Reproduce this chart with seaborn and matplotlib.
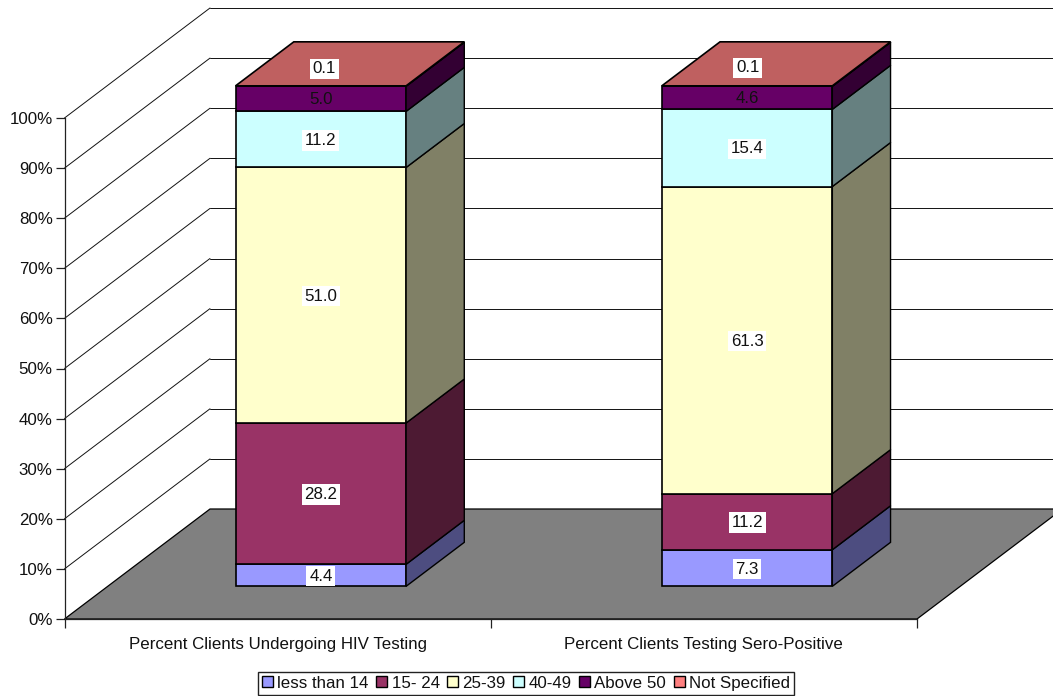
import numpy as np
import matplotlib
matplotlib.use("Agg")
import matplotlib.pyplot as plt
from matplotlib.patches import Patch, Polygon
import seaborn as sns

# Age-group shares of clients, bottom of the stack first
categories = ["Percent Clients Undergoing HIV Testing", "Percent Clients Testing Sero-Positive"]
age_groups = ["less than 14", "15- 24", "25-39", "40-49", "Above 50", "Not Specified"]
under_14 = [4.4, 7.3]
age_15_24 = [28.2, 11.2]
age_25_39 = [51.0, 61.3]
age_40_49 = [11.2, 15.4]
above_50 = [5.0, 4.6]
not_specified = [0.1, 0.1]
percent_ticks = list(range(0, 101, 10))

series = [under_14, age_15_24, age_25_39, age_40_49, above_50, not_specified]
face_colors = ["#9999FF", "#993366", "#FFFFCC", "#CCFFFF", "#660066", "#FF8080"]
side_colors = ["#4D4D80", "#4D1A33", "#808066", "#668080", "#330033", "#804040"]
top_color = "#BF6060"
floor_color = "#808080"

# Oblique projection: one unit of depth moves a point right and up the page
W, H = 1053, 696
DEPTH_X = 145.5 / 426.25
DEPTH_Y = 110 / 5.01
BAR_FRONT, BAR_BACK = 0.297, 0.697
BAR_WIDTH = 0.4


def project(x, y, z):
    return x + z * DEPTH_X, y + z * DEPTH_Y


sns.set_theme(style="white")
plt.rcParams["font.family"] = ["Liberation Sans", "DejaVu Sans"]
FONT = 12.15
fig = plt.figure(figsize=(W / 100, H / 100), dpi=100, facecolor="white")
ax = fig.add_axes([64.5 / W, 1 - 619 / H, (917 - 64.5) / W, (619 - 118) / H])
ax.patch.set_visible(False)

# Back wall gridlines and the diagonals running along the side wall
for p in percent_ticks[1:]:
    sx, sy = project(0, p, 1)
    ax.plot([0, sx], [p, sy], color="#111111", lw=0.7, zorder=1, clip_on=False)
    ax.plot([sx, project(2, p, 1)[0]], [sy, sy], color="#111111", lw=0.7, zorder=1, clip_on=False)

# Floor
floor = [project(0, 0, 0), project(2, 0, 0), project(2, 0, 1), project(0, 0, 1)]
ax.add_patch(Polygon(floor, closed=True, facecolor=floor_color, edgecolor="black",
                     lw=0.9, zorder=1.5, clip_on=False))

# Stacked front faces, with their side faces and the top lid
centers = np.array([0.5, 1.5])
front_x = project(centers, 0, BAR_FRONT)[0]
front_base = project(0, 0, BAR_FRONT)[1]
bottom = np.full(2, front_base)
for values, face, side, name in zip(series, face_colors, side_colors, age_groups):
    values = np.array(values)
    sns.barplot(x=front_x, y=values, bottom=bottom, native_scale=True, width=BAR_WIDTH,
                color=face, saturation=1, errorbar=None, edgecolor="black", linewidth=1.2,
                zorder=3, clip_on=False, ax=ax)
    for cx, low, val in zip(centers, bottom - front_base, values):
        right = cx + BAR_WIDTH / 2
        corners = [project(right, low, BAR_FRONT), project(right, low, BAR_BACK),
                   project(right, low + val, BAR_BACK), project(right, low + val, BAR_FRONT)]
        ax.add_patch(Polygon(corners, closed=True, facecolor=side, edgecolor="black",
                             lw=1.0, zorder=3, clip_on=False))
    mids = bottom + values / 2
    for fx, my, val in zip(front_x, mids, values):
        if name == "Not Specified":
            continue
        box = None if name == "Above 50" else dict(facecolor="white", edgecolor="none", pad=1.9)
        # nudge slightly below centre so the digits sit optically mid-segment
        ax.annotate(f"{val:.1f}", (fx, my), xytext=(0, -0.7), textcoords="offset points",
                    ha="center", va="center", fontsize=FONT, color="#111111", bbox=box,
                    zorder=5, annotation_clip=False)
    bottom = bottom + values

lid_offsets = [(3.5, 17), (0.5, 18)]
for cx, fx, top, val, off in zip(centers, front_x, bottom - front_base, not_specified, lid_offsets):
    left, right = cx - BAR_WIDTH / 2, cx + BAR_WIDTH / 2
    lid = [project(left, top, BAR_FRONT), project(right, top, BAR_FRONT),
           project(right, top, BAR_BACK), project(left, top, BAR_BACK)]
    ax.add_patch(Polygon(lid, closed=True, facecolor=top_color, edgecolor="black",
                         lw=1.2, zorder=3.1, clip_on=False))
    ax.annotate(f"{val:.1f}", (fx, top + front_base), xytext=(off[0] * 0.72, off[1] * 0.72),
                textcoords="offset points", ha="center", va="center", fontsize=FONT,
                color="#111111", zorder=5, annotation_clip=False,
                bbox=dict(facecolor="white", edgecolor="none", pad=1.9))

# Axes: the spines carry the front plane's scale
ax.set_xlim(0, 2)
ax.set_ylim(0, 100)
ax.set_xlabel("")
ax.set_ylabel("")
for name in ("top", "right"):
    ax.spines[name].set_visible(False)
for name in ("left", "bottom"):
    ax.spines[name].set_color("#222222")
    ax.spines[name].set_linewidth(0.9)
    ax.spines[name].set_zorder(2)
ax.set_yticks(percent_ticks, [f"{p}%" for p in percent_ticks])
ax.set_xticks([0, 1, 2], ["", "", ""])
ax.set_xticks(centers, categories, minor=True)
ax.tick_params(axis="both", which="major", length=6.5, width=0.9, color="#222222",
               labelsize=FONT, labelcolor="#111111", left=True, bottom=True, pad=2)
ax.tick_params(axis="x", which="minor", length=0, labelsize=FONT, labelcolor="#111111", pad=13)
ax.grid(False)

handles = [Patch(facecolor=c, edgecolor="black", lw=1.0, label=n)
           for c, n in zip(face_colors, age_groups)]
fig.legend(handles=handles, ncols=6, loc="lower left", bbox_to_anchor=(258 / W, 1 / H),
           borderaxespad=0, fontsize=FONT, frameon=True, fancybox=False, edgecolor="#222222",
           framealpha=1, handlelength=0.65, handleheight=0.65, handletextpad=0.25,
           columnspacing=0.45, borderpad=0.25, labelcolor="#111111")

fig.savefig("out.png", dpi=100)
